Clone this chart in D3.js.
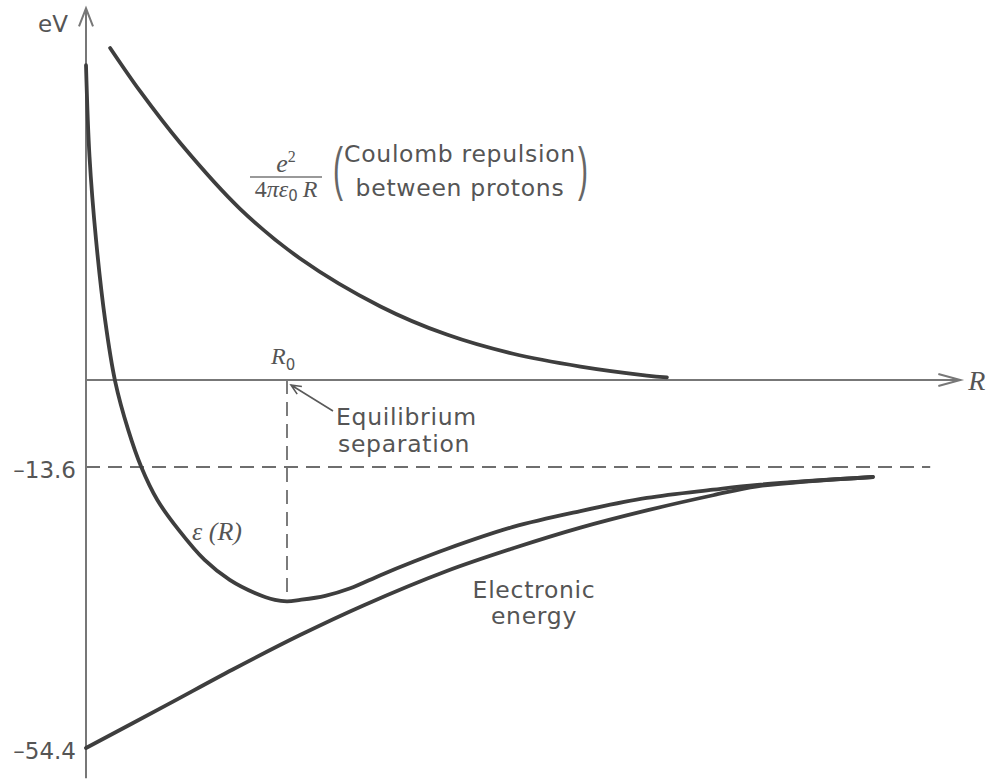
<!DOCTYPE html>
<html>
<head>
<meta charset="utf-8">
<script src="https://cdn.jsdelivr.net/npm/d3@7"></script>
<style>
  html, body { margin: 0; padding: 0; background: #fff; }
  svg { display: block; }
</style>
</head>
<body>
<svg id="chart" width="989" height="782"></svg>
<script>
// Separation R in units of the Bohr radius, energies in eV.
const coulombR = [0.24, 0.54, 0.94, 1.53, 2.13, 2.93, 3.59, 4.25, 4.92, 5.58, 5.78];
const coulombE = [51.9, 45.1, 37.0, 26.8, 19.0, 11.5, 7.1, 4.1, 2.1, 0.7, 0.4];

const totalR = [0, 0.035, 0.10, 0.19, 0.29, 0.42, 0.55, 0.71, 0.92, 1.18, 1.43, 1.68, 1.88, 2.00,
                2.13, 2.38, 2.63, 2.93, 3.25, 3.59, 4.25, 4.92, 5.58, 6.24, 6.68, 7.83];
const totalE = [49.2, 34.9, 21.9, 9.4, -0.2, -7.8, -13.6, -18.4, -22.7, -27.1, -30.0, -31.9, -32.9, -33.1,
                -32.9, -32.3, -31.2, -29.3, -27.4, -25.5, -22.3, -20.0, -18.1, -16.9, -16.2, -15.05];

const electronR = [0, 0.81, 1.46, 2.13, 2.76, 3.59, 4.25, 4.92, 5.58, 6.24, 6.68, 7.83];
const electronE = [-54.4, -48.1, -43.0, -38.0, -33.7, -28.7, -25.4, -22.4, -19.9, -17.7, -16.4, -15.05];

const yTickValues = [-13.6, -54.4];
const yTickLabels = ["\u201313.6", "\u201354.4"];
const R0 = 2.0;          // equilibrium separation
const ionLimit = -13.6;  // H atom + proton
const minEnergy = d3.min(totalE);

const svg = d3.select("#chart");
const ink = "#3e3e3e", axisInk = "#777", textInk = "#555";
const sans = "'DejaVu Sans', sans-serif";
const serif = "'Liberation Serif', 'DejaVu Serif', serif";

// Schematic energy axis: stretched below the ionisation limit
const x = d3.scaleLinear().domain([0, R0]).range([86, 287]);
const y = d3.scaleLinear().domain([-54.4, -13.6, 0]).range([748, 467, 380]);

const xAxisEnd = 8.7, yAxisTop = 58.1, yAxisBottom = -58.8, dashEnd = 8.4;

// dashed guide lines
svg.append("line")
  .attr("x1", x(0)).attr("x2", x(dashEnd))
  .attr("y1", y(ionLimit)).attr("y2", y(ionLimit))
  .attr("stroke", "#6e6e6e").attr("stroke-width", 1.8)
  .attr("stroke-dasharray", "14,8");
svg.append("line")
  .attr("x1", x(R0)).attr("x2", x(R0))
  .attr("y1", y(0)).attr("y2", y(minEnergy))
  .attr("stroke", "#6e6e6e").attr("stroke-width", 1.8)
  .attr("stroke-dasharray", "14,8");

// axes
svg.append("line")
  .attr("x1", x(0)).attr("x2", x(0))
  .attr("y1", y(yAxisTop)).attr("y2", y(yAxisBottom))
  .attr("stroke", axisInk).attr("stroke-width", 2);
svg.append("line")
  .attr("x1", x(0)).attr("x2", x(xAxisEnd))
  .attr("y1", y(0)).attr("y2", y(0))
  .attr("stroke", axisInk).attr("stroke-width", 2);

// open arrowheads
const yTip = [x(0), y(yAxisTop)];
svg.append("path")
  .attr("d", `M${yTip[0] - 7},${yTip[1] + 18}L${yTip[0]},${yTip[1]}L${yTip[0] + 7},${yTip[1] + 18}`)
  .attr("fill", "none").attr("stroke", axisInk).attr("stroke-width", 2);
const xTip = [x(xAxisEnd), y(0)];
svg.append("path")
  .attr("d", `M${xTip[0] - 22},${xTip[1] - 6}L${xTip[0]},${xTip[1]}L${xTip[0] - 22},${xTip[1] + 6}`)
  .attr("fill", "none").attr("stroke", axisInk).attr("stroke-width", 2);

// y tick labels
const yAxis = d3.axisLeft(y)
  .tickValues(yTickValues)
  .tickFormat((d, i) => yTickLabels[i])
  .tickSize(0).tickPadding(10);
const gy = svg.append("g").attr("transform", `translate(${x(0)},3)`).call(yAxis);
gy.select(".domain").remove();
gy.selectAll("text").attr("font-family", sans).attr("font-size", 23).attr("fill", textInk);

// curves
const line = d3.line().x(d => x(d[0])).y(d => y(d[1])).curve(d3.curveCatmullRom.alpha(0.5));
const series = [
  d3.zip(coulombR, coulombE),
  d3.zip(totalR, totalE),
  d3.zip(electronR, electronE)
];
svg.selectAll("path.curve").data(series).join("path")
  .attr("class", "curve")
  .attr("d", line)
  .attr("fill", "none").attr("stroke", ink)
  .attr("stroke-width", 3.8).attr("stroke-linecap", "round").attr("stroke-linejoin", "round");

// axis titles
svg.append("text").attr("x", x(0) - 18).attr("y", 32)
  .attr("text-anchor", "end").attr("font-family", sans).attr("font-size", 23)
  .attr("fill", textInk).text("eV");
svg.append("text").attr("x", x(xAxisEnd) + 8).attr("y", y(0) + 10)
  .attr("font-family", serif).attr("font-style", "italic").attr("font-size", 28)
  .attr("fill", textInk).text("R");

// R0 marker label
const r0Label = svg.append("text").attr("x", x(R0) - 16).attr("y", y(0) - 16)
  .attr("font-family", serif).attr("font-size", 24).attr("fill", textInk);
r0Label.append("tspan").attr("font-style", "italic").text("R");
r0Label.append("tspan").attr("font-family", sans).attr("font-size", 15).attr("dy", 6).text("0");

// equilibrium annotation with arrow
const tip = [x(R0) + 4, y(0) + 5];
const tail = [tip[0] + 42, tip[1] + 26];
const ang = Math.atan2(tail[1] - tip[1], tail[0] - tip[0]);
const ah = 11, spread = 0.42;
svg.append("path")
  .attr("d", `M${tail[0]},${tail[1]}L${tip[0]},${tip[1]}` +
             `M${tip[0] + ah * Math.cos(ang - spread)},${tip[1] + ah * Math.sin(ang - spread)}` +
             `L${tip[0]},${tip[1]}` +
             `L${tip[0] + ah * Math.cos(ang + spread)},${tip[1] + ah * Math.sin(ang + spread)}`)
  .attr("fill", "none").attr("stroke", "#5a5a5a").attr("stroke-width", 1.6);

const label = (tx, ty, str, anchor) => svg.append("text")
  .attr("x", tx).attr("y", ty).attr("text-anchor", anchor || "start")
  .attr("font-family", sans).attr("font-size", 23.5).attr("letter-spacing", 0.7)
  .attr("fill", textInk).text(str);

label(336, 425, "Equilibrium");
label(338, 452, "separation");

// epsilon(R) label
svg.append("text").attr("x", 192).attr("y", 540)
  .attr("font-family", serif).attr("font-style", "italic").attr("font-size", 26)
  .attr("fill", textInk).text("\u03b5 (R)");

// electronic energy label
label(534, 598, "Electronic", "middle");
label(534, 624, "energy", "middle");

// Coulomb repulsion label: e^2 / (4 pi eps0 R)
const fx = 286;
const num = svg.append("text").attr("x", fx).attr("y", 172).attr("text-anchor", "middle")
  .attr("font-family", serif).attr("font-size", 26).attr("fill", textInk);
num.append("tspan").attr("font-style", "italic").text("e");
num.append("tspan").attr("font-size", 16).attr("dy", -10).text("2");
svg.append("line").attr("x1", 250).attr("x2", 322).attr("y1", 177).attr("y2", 177)
  .attr("stroke", "#777").attr("stroke-width", 1.4);
const den = svg.append("text").attr("x", fx).attr("y", 197).attr("text-anchor", "middle")
  .attr("font-family", serif).attr("font-size", 24).attr("fill", textInk);
den.append("tspan").text("4");
den.append("tspan").attr("font-style", "italic").text("\u03c0\u03b5");
den.append("tspan").attr("font-family", sans).attr("font-size", 15).attr("dy", 4).text("0");
den.append("tspan").attr("font-style", "italic").attr("dy", -4).attr("dx", 5).text("R");

const paren = svg.append("g").attr("transform", "scale(1,2)")
  .attr("font-family", "'Liberation Sans', sans-serif").attr("font-size", 30).attr("fill", "#666");
paren.append("text").attr("x", 338).attr("y", 94.5).attr("text-anchor", "middle").text("(");
paren.append("text").attr("x", 583).attr("y", 94.5).attr("text-anchor", "middle").text(")");

label(460, 162, "Coulomb repulsion", "middle");
label(460, 196, "between protons", "middle");
</script>
</body>
</html>
